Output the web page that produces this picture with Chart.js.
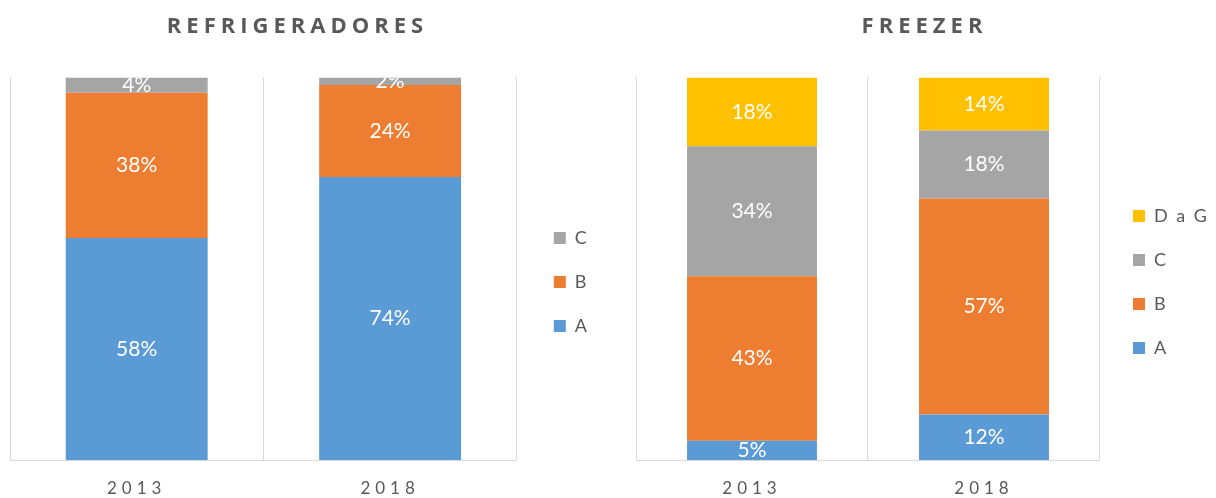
<!DOCTYPE html>
<html>
<head>
<meta charset="utf-8">
<script src="https://cdn.jsdelivr.net/npm/chart.js@4/dist/chart.umd.min.js"></script>
<style>
  html, body { margin: 0; padding: 0; background: #fff; overflow: hidden; }
  .row { display: flex; width: 1227px; height: 498px; }
  canvas { display: block; flex: none; }
</style>
</head>
<body>
<div class="row">
  <canvas id="refri" width="600" height="498"></canvas>
  <canvas id="freezer" width="627" height="498"></canvas>
</div>
<script>
// Years on the x axis
const years = ["2013", "2018"];

// Refrigeradores, percentage per class
const refriA = [58, 74];
const refriB = [38, 24];
const refriC = [4, 2];

// Freezer, percentage per class
const freezerA = [5, 12];
const freezerB = [43, 57];
const freezerC = [34, 18];
const freezerDG = [18, 14];

const COLORS = { A: "#5B9BD5", B: "#ED7D31", C: "#A5A5A5", DG: "#FFC000" };
const GREY = "#595959";

// 100% stacked: share of each year's total (labels keep the rounded values)
function shares(series, all) {
  return series.map((v, i) => {
    const total = all.reduce((s, arr) => s + arr[i], 0);
    return (v / total) * 100;
  });
}

function makeSets(list) {
  const all = list.map((d) => d.values);
  return list.map((d) => ({
    label: d.label,
    data: shares(d.values, all),
    pct: d.values,
    backgroundColor: d.color,
    borderWidth: 0,
    barPercentage: 0.56,
    categoryPercentage: 1,
  }));
}

// spaced-out text for title and ticks like the original, less for the legend
const spacing = {
  id: "spacing",
  afterInit(chart, args, opts) {
    const ctx = chart.ctx;
    const lg = chart.legend;
    const lgDraw = lg.draw.bind(lg);
    lg.draw = function () {
      const old = ctx.letterSpacing;
      ctx.letterSpacing = "2px";
      lgDraw();
      ctx.letterSpacing = old;
    };
    const tb = chart.titleBlock;
    const tbDraw = tb.draw.bind(tb);
    tb.draw = function () {
      ctx.save();
      ctx.translate(opts.titleDx, 0);
      tbDraw();
      ctx.restore();
    };
  },
  beforeLayout(chart) { chart.ctx.letterSpacing = "5px"; },
  beforeDraw(chart) { chart.ctx.letterSpacing = "5px"; },
};

// nudge the legend block, Excel puts it a bit lower and further right
const legendShift = {
  id: "legendShift",
  afterLayout(chart, args, opts) {
    const lg = chart.legend;
    lg.left += opts.dx; lg.right += opts.dx;
    lg.top += opts.dy; lg.bottom += opts.dy;
  },
};

// white value labels in the middle of every segment, clipped to the plot
const valueLabels = {
  id: "valueLabels",
  afterDatasetsDraw(chart) {
    const ctx = chart.ctx;
    const area = chart.chartArea;
    ctx.save();
    ctx.beginPath();
    ctx.rect(area.left, area.top, area.right - area.left, area.bottom - area.top);
    ctx.clip();
    ctx.letterSpacing = "0px";
    ctx.fillStyle = "#ffffff";
    ctx.font = "21px Lato";
    ctx.textAlign = "center";
    ctx.textBaseline = "middle";
    chart.data.datasets.forEach((ds, di) => {
      chart.getDatasetMeta(di).data.forEach((bar, i) => {
        const y = (bar.y + bar.base) / 2;
        ctx.fillText(ds.pct[i] + "%", bar.x, y);
      });
    });
    ctx.restore();
  },
};

function makeChart(id, title, datasets, padding, shift, titleDx) {
  return new Chart(document.getElementById(id), {
    type: "bar",
    data: { labels: years, datasets: datasets },
    options: {
      responsive: false,
      animation: false,
      layout: { padding: padding },
      scales: {
        x: {
          stacked: true,
          grid: { color: "#d9d9d9", offset: true, drawTicks: false },
          border: { color: "#d9d9d9" },
          ticks: { color: GREY, font: { family: "Lato", size: 17 }, padding: 18 },
          afterFit(scale) { scale.height = 38; },
        },
        y: { stacked: true, display: false, min: 0, max: 100 },
      },
      plugins: {
        title: {
          display: true,
          text: title,
          color: GREY,
          font: { family: "Open Sans", size: 22, weight: "bold" },
          padding: { top: 14, bottom: 37 },
        },
        legend: {
          position: "right",
          reverse: true,
          labels: {
            boxWidth: 12,
            boxHeight: 12,
            color: GREY,
            font: { family: "Lato", size: 18 },
            padding: 26,
          },
        },
        legendShift: shift,
        spacing: { titleDx: titleDx },
        tooltip: { enabled: false },
      },
    },
    plugins: [spacing, legendShift, valueLabels],
  });
}

makeChart("refri", "REFRIGERADORES", makeSets([
  { label: "A", values: refriA, color: COLORS.A },
  { label: "B", values: refriB, color: COLORS.B },
  { label: "C", values: refriC, color: COLORS.C },
]), { left: 10, right: 9, bottom: 0 }, { dx: 11, dy: 33 }, -3);

makeChart("freezer", "FREEZER", makeSets([
  { label: "A", values: freezerA, color: COLORS.A },
  { label: "B", values: freezerB, color: COLORS.B },
  { label: "C", values: freezerC, color: COLORS.C },
  { label: "D a G", values: freezerDG, color: COLORS.DG },
]), { left: 36, right: 0, bottom: 0 }, { dx: 7, dy: 33 }, -7);
</script>
</body>
</html>
